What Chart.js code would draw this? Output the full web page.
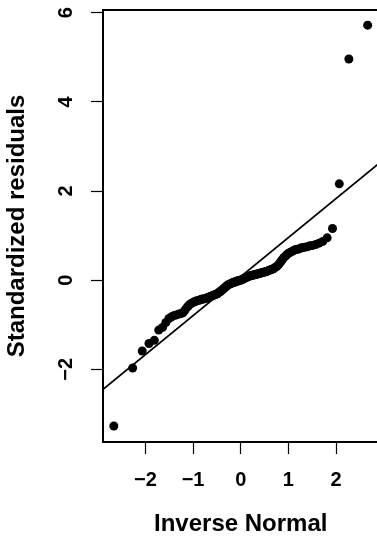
<!DOCTYPE html>
<html>
<head>
<meta charset="utf-8">
<script src="https://cdn.jsdelivr.net/npm/chart.js@4/dist/chart.umd.min.js"></script>
<style>
  html, body { margin: 0; padding: 0; background: #fff; overflow: hidden; }
  #wrap { width: 377px; height: 536px; overflow: hidden; }
</style>
</head>
<body>
<div id="wrap"><canvas id="qq" width="390" height="536"></canvas></div>
<script>
// --- data ---
// theoretical quantiles (inverse normal), 129 residuals
const qqX = [
  -2.663, -2.268, -2.067, -1.925, -1.813, -1.721, -1.641, -1.571, -1.507, -1.449,
  -1.395, -1.346, -1.299, -1.255, -1.214, -1.174, -1.137, -1.101, -1.066, -1.032,
  -1.000, -0.967, -0.937, -0.907, -0.878, -0.850, -0.822, -0.795, -0.769, -0.743,
  -0.718, -0.693, -0.668, -0.644, -0.620, -0.597, -0.574, -0.552, -0.529, -0.507,
  -0.485, -0.463, -0.441, -0.420, -0.399, -0.378, -0.357, -0.337, -0.316, -0.296,
  -0.275, -0.255, -0.235, -0.215, -0.195, -0.175, -0.156, -0.136, -0.117, -0.097,
  -0.078, -0.058, -0.039, -0.019, 0.000,
  0.019, 0.039, 0.058, 0.078, 0.097, 0.117, 0.136, 0.156, 0.175, 0.195,
  0.215, 0.235, 0.255, 0.275, 0.296, 0.316, 0.337, 0.357, 0.378, 0.399,
  0.420, 0.441, 0.463, 0.485, 0.507, 0.529, 0.552, 0.574, 0.597, 0.620,
  0.644, 0.668, 0.693, 0.718, 0.743, 0.769, 0.795, 0.822, 0.850, 0.878,
  0.907, 0.937, 0.967, 1.000, 1.032, 1.066, 1.101, 1.137, 1.174, 1.214,
  1.255, 1.299, 1.346, 1.395, 1.449, 1.507, 1.571, 1.641, 1.721, 1.813,
  1.925, 2.067, 2.268, 2.663
];
// standardized residuals, sorted
const qqY = [
  -3.27, -1.97, -1.59, -1.42, -1.35, -1.12, -1.06, -0.95, -0.86, -0.82,
  -0.79, -0.78, -0.76, -0.75, -0.73, -0.68, -0.62, -0.58, -0.54, -0.52,
  -0.50, -0.48, -0.47, -0.46, -0.45, -0.44, -0.43, -0.42, -0.42, -0.41,
  -0.40, -0.39, -0.38, -0.37, -0.36, -0.35, -0.34, -0.33, -0.32, -0.31,
  -0.30, -0.28, -0.26, -0.25, -0.23, -0.21, -0.19, -0.17, -0.15, -0.13,
  -0.11, -0.10, -0.09, -0.08, -0.07, -0.06, -0.05, -0.04, -0.04, -0.03,
  -0.02, -0.02, -0.01, 0.00, 0.00,
  0.01, 0.02, 0.03, 0.04, 0.05, 0.06, 0.07, 0.08, 0.09, 0.10,
  0.10, 0.11, 0.11, 0.12, 0.12, 0.13, 0.13, 0.14, 0.15, 0.15,
  0.16, 0.17, 0.17, 0.18, 0.19, 0.19, 0.20, 0.21, 0.22, 0.23,
  0.24, 0.25, 0.26, 0.28, 0.30, 0.32, 0.35, 0.39, 0.43, 0.47,
  0.51, 0.54, 0.57, 0.60, 0.62, 0.64, 0.66, 0.68, 0.69, 0.70,
  0.72, 0.73, 0.74, 0.75, 0.77, 0.78, 0.80, 0.83, 0.87, 0.95,
  1.16, 2.16, 4.96, 5.72
];
// reference line end points
const refLineX = [-3, 3];
const refLineY = [-2.545, 2.705];

const xTicks = [-2, -1, 0, 1, 2];
const xTickLabels = ['\u22122', '\u22121', '0', '1', '2'];
const yTicks = [-2, 0, 2, 4, 6];
const yTickLabels = ['\u22122', '0', '2', '4', '6'];

const xTitle = 'Inverse Normal';
const yTitle = 'Standardized residuals';

// --- chart ---
const FONT = 'Liberation Sans';

const boxFrame = {
  id: 'boxFrame',
  afterDatasetsDraw(chart) {
    const a = chart.chartArea;
    const ctx = chart.ctx;
    ctx.save();
    ctx.strokeStyle = '#000';
    ctx.lineWidth = 2;
    ctx.strokeRect(a.left, a.top, a.right - a.left, a.bottom - a.top);
    ctx.restore();
  }
};

const points = qqX.map((x, i) => ({ x: x, y: qqY[i] }));
const refLine = refLineX.map((x, i) => ({ x: x, y: refLineY[i] }));

new Chart(document.getElementById('qq').getContext('2d'), {
  type: 'scatter',
  data: {
    datasets: [
      {
        type: 'line',
        data: refLine,
        borderColor: '#000',
        borderWidth: 1.8,
        pointRadius: 0,
        fill: false
      },
      {
        data: points,
        backgroundColor: '#000',
        borderColor: '#000',
        borderWidth: 0,
        pointRadius: 4.5
      }
    ]
  },
  options: {
    responsive: false,
    animation: false,
    events: [],
    layout: { padding: { left: 0, top: 10, right: 11.5, bottom: 0 } },
    plugins: { legend: { display: false }, tooltip: { enabled: false } },
    scales: {
      x: {
        type: 'linear',
        min: -2.89,
        max: 2.89,
        afterBuildTicks: s => { s.ticks = xTicks.map(v => ({ value: v })); },
        afterFit: s => { s.height = 94; s.paddingLeft = 0; s.paddingRight = 0; },
        grid: { drawOnChartArea: false, drawTicks: true, tickLength: 12, tickColor: '#000', tickWidth: 1.2 },
        border: { display: false },
        ticks: {
          color: '#000',
          padding: 14,
          maxRotation: 0,
          font: { family: FONT, size: 20, weight: 'bold' },
          callback: (v, i) => xTickLabels[i]
        },
        title: {
          display: true,
          text: xTitle,
          color: '#000',
          padding: { top: 0, bottom: 0 },
          font: { family: FONT, size: 24, weight: 'bold', lineHeight: 1 }
        }
      },
      y: {
        type: 'linear',
        min: -3.63,
        max: 6.06,
        afterBuildTicks: s => { s.ticks = yTicks.map(v => ({ value: v })); },
        afterFit: s => { s.width = 103; s.paddingTop = 0; s.paddingBottom = 0; },
        grid: { drawOnChartArea: false, drawTicks: true, tickLength: 12, tickColor: '#000', tickWidth: 1.2 },
        border: { display: false },
        ticks: {
          color: '#000',
          padding: 13.5,
          minRotation: 90,
          maxRotation: 90,
          crossAlign: 'center',
          font: { family: FONT, size: 20, weight: 'bold' },
          callback: (v, i) => yTickLabels[i]
        },
        title: {
          display: true,
          text: yTitle,
          color: '#000',
          padding: { top: 5, bottom: 0 },
          font: { family: FONT, size: 24, weight: 'bold', lineHeight: 1 }
        }
      }
    }
  },
  plugins: [boxFrame]
});
</script>
</body>
</html>
